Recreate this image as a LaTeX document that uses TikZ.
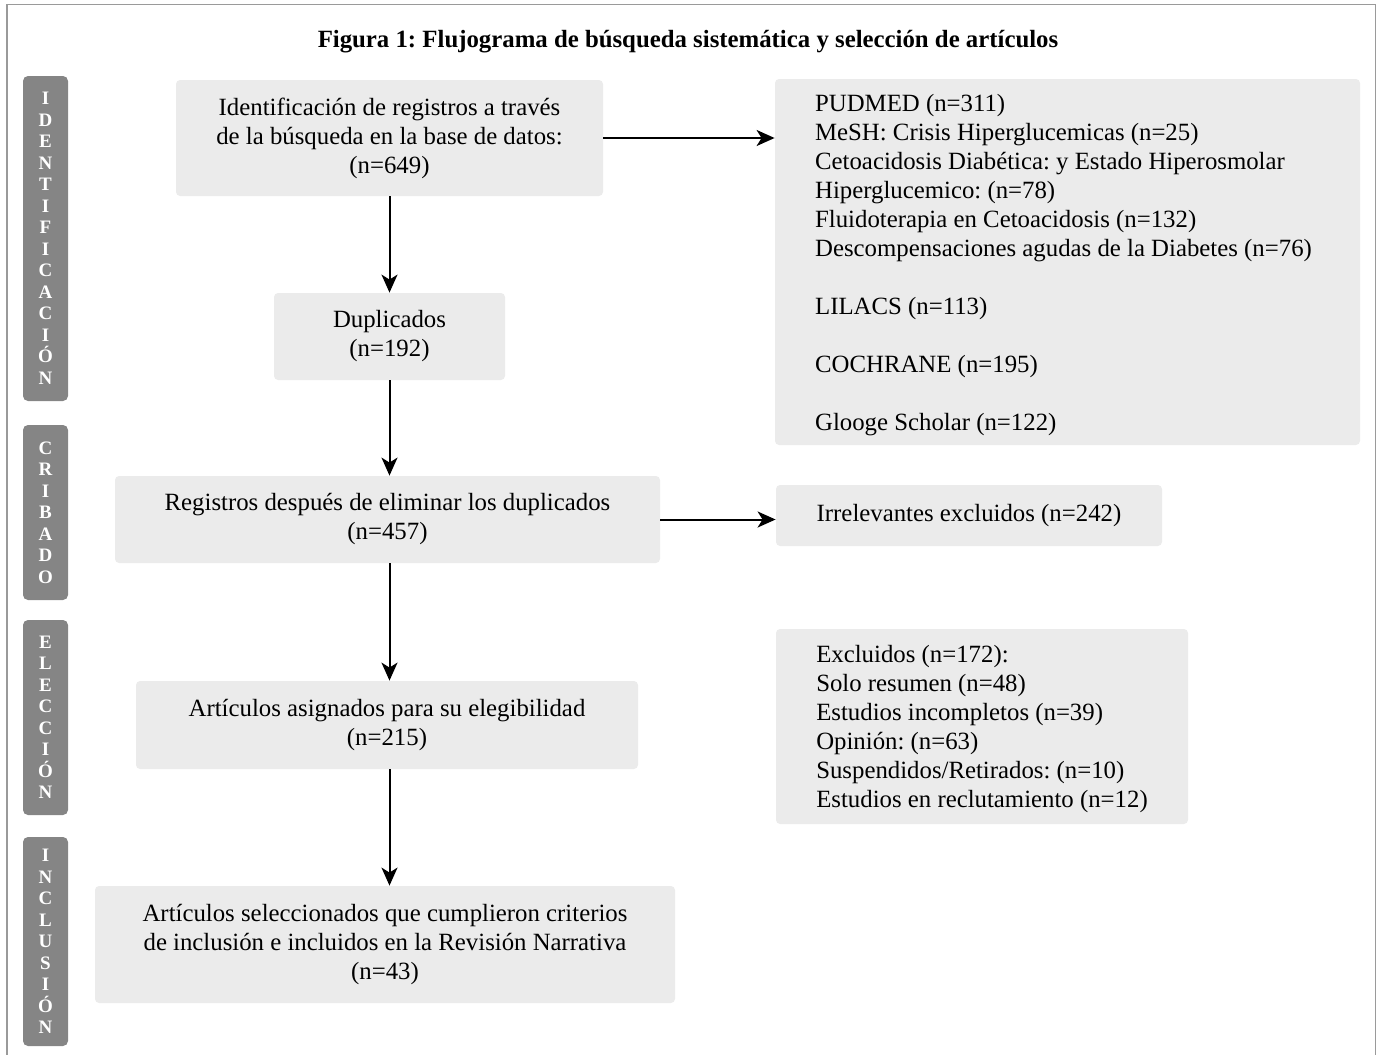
\documentclass[tikz,border=0pt]{standalone}
\usepackage{fontspec}
\setmainfont{Liberation Serif}
\usetikzlibrary{arrows.meta}
\frenchspacing

\definecolor{boxgray}{HTML}{EBEBEB}
\definecolor{tabgray}{HTML}{858585}
\definecolor{framegray}{HTML}{9A9A9A}

\begin{document}
\begin{tikzpicture}[x=0.5pt,y=-0.5pt,
  caja/.style={fill=boxgray, rounded corners=2pt, inner sep=0pt, align=center,
    font=\fontsize{12.4}{14.5}\selectfont},
  lista/.style={caja, align=left, text depth=-4.3pt},
  etapa/.style={fill=tabgray, rounded corners=2.5pt, text=white, inner sep=0pt,
    minimum width=22.5pt, align=center, font=\fontsize{9.5}{10.75}\selectfont\bfseries},
  flecha/.style={-{Stealth[length=9pt,width=8pt,inset=2.5pt]}, line width=1pt}]
\useasboundingbox (0,0) rectangle (1377,1055);
\draw[framegray, line width=0.8pt] (7,1055) -- (7,4.5) -- (1375.5,4.5) -- (1375.5,1055);

\node[font=\fontsize{12.4}{14.5}\selectfont\bfseries] (titulo) at (688,42)
  {Figura 1: Flujograma de búsqueda sistemática y selección de artículos};

\node[etapa, minimum height=162.5pt] (t1) at (45.5,238.5) {I\\D\\E\\N\\T\\I\\F\\I\\C\\A\\C\\I\\Ó\\N};
\node[etapa, minimum height=87.5pt] (t2) at (45.5,512.5) {C\\R\\I\\B\\A\\D\\O};
\node[etapa, minimum height=97.5pt] (t3) at (45.5,717.5) {E\\L\\E\\C\\C\\I\\Ó\\N};
\node[etapa, minimum height=104.5pt] (t4) at (45.5,941.5) {I\\N\\C\\L\\U\\S\\I\\Ó\\N};

\node[caja, minimum width=213.5pt, minimum height=58pt] (id) at (389.5,138)
  {Identificación de registros a través\\de la búsqueda en la base de datos:\\(n=649)};
\node[caja, minimum width=115.5pt, minimum height=43.5pt] (dup) at (389.5,336.5)
  {Duplicados\\(n=192)};
\node[caja, minimum width=272.5pt, minimum height=43.5pt] (reg) at (387.5,519.5)
  {Registros después de eliminar los duplicados\\(n=457)};
\node[caja, minimum width=251pt, minimum height=44pt] (eleg) at (387,725)
  {Artículos asignados para su elegibilidad\\(n=215)};
\node[caja, minimum width=290pt, minimum height=58.5pt] (incl) at (385,944.5)
  {Artículos seleccionados que cumplieron criterios\\de inclusión e incluidos en la Revisión Narrativa\\(n=43)};

\node[lista, minimum width=292.5pt, minimum height=183pt] (bases) at (1067.5,262)
  {PUDMED (n=311)\\
   MeSH: Crisis Hiperglucemicas (n=25)\\
   Cetoacidosis Diabética: y Estado Hiperosmolar\\
   Hiperglucemico: (n=78)\\
   Fluidoterapia en Cetoacidosis (n=132)\\
   Descompensaciones agudas de la Diabetes (n=76)\hspace*{4pt}\mbox{}\\[14.5pt]
   LILACS (n=113)\\[14.5pt]
   COCHRANE (n=195)\\[14.5pt]
   Glooge Scholar (n=122)};
\node[caja, minimum width=193pt, minimum height=30.5pt] (irr) at (969,515.5)
  {Irrelevantes excluidos (n=242)};
\node[lista, minimum width=206pt, minimum height=97.5pt] (excl) at (982,726.5)
  {Excluidos (n=172):\\
   Solo resumen (n=48)\\
   Estudios incompletos (n=39)\\
   Opinión: (n=63)\\
   Suspendidos/Retirados: (n=10)\\
   Estudios en reclutamiento (n=12)};

\draw[flecha] (id.south) -- (dup.north);
\draw[flecha] (dup.south) -- (reg.north -| dup.south);
\draw[flecha] (reg.south -| dup.south) -- (eleg.north -| dup.south);
\draw[flecha] (eleg.south -| dup.south) -- (incl.north -| dup.south);
\draw[flecha] (id.east) -- (id.east -| bases.west);
\draw[flecha] (reg.east) -- (reg.east -| irr.west);
\end{tikzpicture}
\end{document}
